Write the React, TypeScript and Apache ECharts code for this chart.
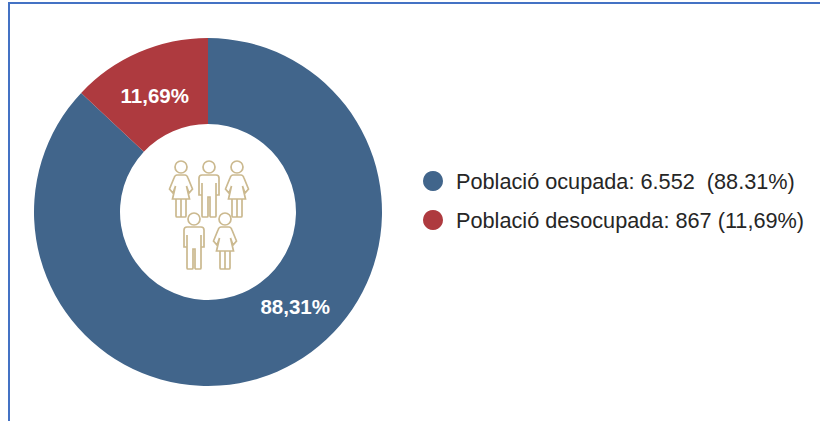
import React, { useEffect, useRef } from "react";
import * as echarts from "echarts";

const segmentNames = ["Població ocupada: 6.552  (88.31%)", "Població desocupada: 867 (11,69%)"];
// Shares as drawn in the picture: the red wedge spans about 47 degrees.
const segmentValues = [87, 13];
const segmentLabels = ["88,31%", "11,69%"];
const segmentColors = ["#41658b", "#ae3a3f"];
const labelOffsets = [[34, -28], [0, 6]];

const head = "M6 0A6 6 0 1 1 -6 0A6 6 0 1 1 6 0Z";
const malePath =
  head +
  "M-7 8H7Q10 8 10 11V28H7V16M7 28V49Q7 50 6 50H2Q1 50 1 49V30H-1V49Q-1 50 -2 50H-6Q-7 50 -7 49V16M-7 28H-10V11Q-10 8 -7 8";
const femalePath =
  head +
  "M-4 8H4Q6 8 7 11L11.5 22L8 26L5.5 19L8.5 32H-8.5L-5.5 19L-8 26L-11.5 22L-7 11Q-6 8 -4 8ZM-5 32V49Q-5 50 -4 50H-1Q0 50 0 49V32M5 32V49Q5 50 4 50H1Q0 50 0 49V32";

echarts.graphic.registerShape("personMale", (echarts.graphic as any).extendPath(malePath, {}));
echarts.graphic.registerShape("personFemale", (echarts.graphic as any).extendPath(femalePath, {}));

const people = [
  { type: "personFemale", x: 181, y: 167 },
  { type: "personMale", x: 209, y: 167 },
  { type: "personFemale", x: 237, y: 167 },
  { type: "personMale", x: 194, y: 219 },
  { type: "personFemale", x: 225, y: 219 },
];

export default function App() {
  const ref = useRef<HTMLDivElement>(null);
  useEffect(() => {
    document.body.style.margin = "0";
    const chart = echarts.init(ref.current!, undefined, { renderer: "svg" });
    chart.setOption({
      animation: false,
      backgroundColor: "#ffffff",
      legend: {
        orient: "vertical",
        left: 418,
        top: 165,
        icon: "circle",
        itemWidth: 20,
        itemHeight: 20,
        itemGap: 17,
        selectedMode: false,
        textStyle: {
          fontFamily: "Liberation Sans",
          fontSize: 21.7,
          color: "#262626",
          padding: [0, 0, 0, 8],
        },
        data: segmentNames,
      },
      series: [
        {
          type: "pie",
          center: [208, 212],
          radius: [88, 174],
          startAngle: 90,
          clockwise: true,
          silent: true,
          data: segmentNames.map((name, i) => ({
            name,
            value: segmentValues[i],
            itemStyle: { color: segmentColors[i] },
            label: {
              show: true,
              position: "inside",
              formatter: segmentLabels[i],
              offset: labelOffsets[i],
              color: "#ffffff",
              fontFamily: "Liberation Sans",
              fontWeight: "bold",
              fontSize: 20.5,
            },
            labelLine: { show: false },
          })),
        },
      ],
      graphic: people.map((p) => ({
        type: p.type,
        x: p.x,
        y: p.y,
        z: 10,
        style: { fill: "none", stroke: "#cbb98f", lineWidth: 1.7 },
      })),
    });
    return () => chart.dispose();
  }, []);
  return (
    <div style={{ position: "fixed", left: 0, top: 0, width: 820, height: 421, background: "#fff" }}>
      <div ref={ref} style={{ width: 820, height: 421 }} />
      <div
        style={{
          position: "absolute",
          left: 8,
          top: 2,
          width: 812,
          height: 419,
          boxSizing: "border-box",
          borderTop: "2.5px solid #4472c4",
          borderLeft: "2.5px solid #4472c4",
          pointerEvents: "none",
        }}
      />
    </div>
  );
}
